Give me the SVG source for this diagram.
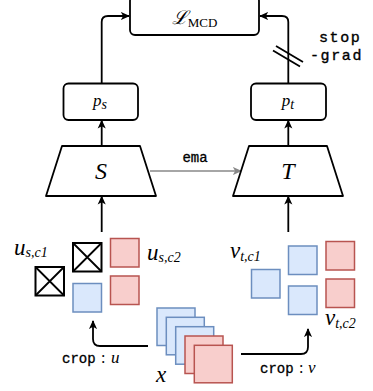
<svg xmlns="http://www.w3.org/2000/svg" width="373" height="391" viewBox="0 0 373 391">
<defs>
<style>
.box{fill:#fff;stroke:#000;stroke-width:1.8}
.ln{fill:none;stroke:#000;stroke-width:1.8}
.blue{fill:#dae8fc;stroke:#6c8ebf;stroke-width:1.5}
.red{fill:#f8cecc;stroke:#b85450;stroke-width:1.5}
.cross{fill:#fff;stroke:#000;stroke-width:2}
.math{font-family:"Liberation Serif","DejaVu Serif",serif;font-style:italic}
.sub{font-family:"Liberation Serif","DejaVu Serif",serif;font-style:italic;font-size:14px}
.mono{font-family:"Liberation Mono","DejaVu Sans Mono",monospace}
</style>
<marker id="ah" viewBox="0 0 10 10" refX="9" refY="5" markerWidth="9" markerHeight="9" orient="auto" markerUnits="userSpaceOnUse">
<path d="M0,0.5 L10,5 L0,9.5 L2.5,5 Z" fill="#000"/>
</marker>
<marker id="ahg" viewBox="0 0 10 10" refX="9" refY="5" markerWidth="9" markerHeight="9" orient="auto" markerUnits="userSpaceOnUse">
<path d="M0,0.5 L10,5 L0,9.5 L2.5,5 Z" fill="#888"/>
</marker>
</defs>
<rect width="373" height="391" fill="#fff"/>
<g id="connectors">
<path class="ln" d="M101.7,83 V22 Q101.7,16 108,16 H129" marker-end="url(#ah)"/>
<path class="ln" d="M288.3,83 V22 Q288.3,16 282,16 H260" marker-end="url(#ah)"/>
<path class="ln" d="M101.7,146 V120.5" marker-end="url(#ah)"/>
<path class="ln" d="M288.3,146 V120.5" marker-end="url(#ah)"/>
<path class="ln" d="M101.7,232 V196.5" marker-end="url(#ah)"/>
<path class="ln" d="M288.3,232 V196.5" marker-end="url(#ah)"/>
<path d="M150,171 H241" fill="none" stroke="#888" stroke-width="1.6" marker-end="url(#ahg)"/>
<path class="ln" d="M148,346 H100 Q93,346 93,339 V321" marker-end="url(#ah)"/>
<path class="ln" d="M241,354 H301 Q308,354 308,347 V329" marker-end="url(#ah)"/>
<path class="ln" d="M276,46 L303,62 M273,50.5 L300,66.5" stroke-width="1.6"/>
</g>
<g id="loss">
<rect class="box" x="130" y="-4" width="129" height="39" rx="5"/>
<text x="194.5" y="24" text-anchor="middle"><tspan class="math" font-size="19" font-family="DejaVu Serif">ℒ</tspan><tspan font-family="Liberation Serif" font-size="13" dy="3">MCD</tspan></text>
</g>
<g id="ps">
<rect class="box" x="63.5" y="83.5" width="74.5" height="36.5" rx="5"/>
<text x="100" y="106" text-anchor="middle"><tspan class="math" font-size="17">p</tspan><tspan class="sub" font-size="11" dy="3">s</tspan></text>
</g>
<g id="pt">
<rect class="box" x="251" y="83.5" width="75" height="36.5" rx="5"/>
<text x="288" y="106" text-anchor="middle"><tspan class="math" font-size="17">p</tspan><tspan class="sub" font-size="11" dy="3">t</tspan></text>
</g>
<g id="S">
<path class="box" d="M62,146 H140 L156,196 H46 Z" stroke-linejoin="round"/>
<text class="math" x="101" y="179" font-size="24" text-anchor="middle">S</text>
</g>
<g id="T">
<path class="box" d="M249,146 H327 L343,196 H233 Z" stroke-linejoin="round"/>
<text class="math" x="288" y="179" font-size="24" text-anchor="middle">T</text>
</g>
<g id="labels">
<text class="mono" x="195" y="162" font-size="14" text-anchor="middle" stroke="#000" stroke-width="0.3">ema</text>
<text class="mono" x="319" y="42" font-size="15" letter-spacing="1.6" stroke="#000" stroke-width="0.35">stop</text>
<text class="mono" x="310" y="60" font-size="15" letter-spacing="1.6" stroke="#000" stroke-width="0.35">-grad</text>
<text x="62" y="363"><tspan class="mono" font-size="14" stroke="#000" stroke-width="0.3">crop</tspan><tspan font-family="Liberation Serif" font-size="16" x="101">:</tspan><tspan class="math" font-size="17" x="111">u</tspan></text>
<text x="260" y="373"><tspan class="mono" font-size="14" stroke="#000" stroke-width="0.3">crop</tspan><tspan font-family="Liberation Serif" font-size="16" x="299">:</tspan><tspan class="math" font-size="17" x="308">v</tspan></text>
<text x="14" y="255"><tspan class="math" font-size="23">u</tspan><tspan class="sub" font-size="16" dy="2">s,c1</tspan></text>
<text x="147" y="260"><tspan class="math" font-size="23">u</tspan><tspan class="sub" font-size="16" dy="2">s,c2</tspan></text>
<text x="230" y="258"><tspan class="math" font-size="23">v</tspan><tspan class="sub" font-size="16" dy="3">t,c1</tspan></text>
<text x="325" y="325"><tspan class="math" font-size="23">v</tspan><tspan class="sub" font-size="16" dy="3">t,c2</tspan></text>
<text class="math" x="156" y="382" font-size="23">x</text>
</g>
<g id="student-crops">
<rect class="cross" x="73" y="243" width="28.5" height="28.5"/>
<path class="ln" d="M73,243 L101.5,271.5 M101.5,243 L73,271.5" stroke-width="1.4"/>
<rect class="cross" x="35.5" y="267" width="28.5" height="28.5"/>
<path class="ln" d="M35.5,267 L64,295.5 M64,267 L35.5,295.5" stroke-width="1.4"/>
<rect class="blue" x="73" y="283.5" width="28.5" height="28.5"/>
<rect class="red" x="110.5" y="238.5" width="28.5" height="28.5"/>
<rect class="red" x="110.5" y="276" width="28.5" height="28.5"/>
</g>
<g id="teacher-crops">
<rect class="blue" x="251.5" y="269.5" width="28.5" height="28.5"/>
<rect class="blue" x="288.5" y="246" width="28.5" height="28.5"/>
<rect class="blue" x="288.5" y="286" width="28.5" height="28.5"/>
<rect class="red" x="326" y="241.5" width="28.5" height="28.5"/>
<rect class="red" x="326" y="279" width="28.5" height="28.5"/>
</g>
<g id="x-stack">
<rect class="blue" x="157" y="308" width="38" height="37.5"/>
<rect class="blue" x="166.3" y="317.3" width="38" height="37.5"/>
<rect class="blue" x="175.7" y="326.7" width="38" height="37.5"/>
<rect class="red" x="185" y="336" width="38" height="37.5"/>
<rect class="red" x="194.3" y="345.3" width="38" height="37.5"/>
</g>
</svg>
